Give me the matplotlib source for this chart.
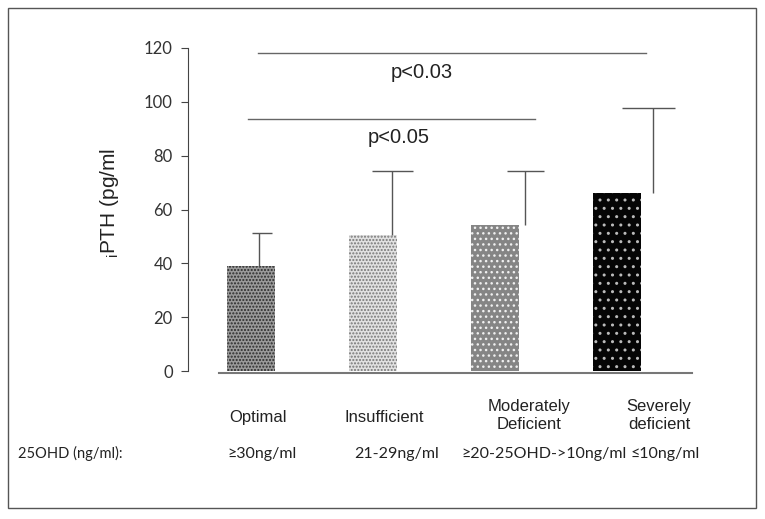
import matplotlib
matplotlib.use("Agg")
from matplotlib import pyplot as plt
from matplotlib.patches import Rectangle

# data
groups = ['Optimal', 'Insufficient', 'Moderately\nDeficient', 'Severely\ndeficient']
ranges = ['\u226530ng/ml', '21-29ng/ml', '\u226520-25OHD->10ng/ml', '\u226410ng/ml']
pth_mean = [39, 50.5, 54.3, 66]
pth_sd = [12.3, 23.8, 20, 31.8]
sig_pairs = [(0, 3), (0, 2)]
sig_labels = ['p<0.03', 'p<0.05']
sig_heights = [118.2, 93.7]

W, H = 765, 519
fig = plt.figure(figsize=(W / 100, H / 100), dpi=100)

def fx(px):
    return px / W

def fy(py):
    return 1 - py / H

# outer frame
fig.patches.append(Rectangle((fx(8), fy(508)), fx(748), 500 / H, transform=fig.transFigure,
                             fill=False, edgecolor='#555555', lw=1.0))

ax = fig.add_axes([fx(188), fy(371), fx(504), (371 - 48) / H])
ax.set_xlim(-0.516, -0.516 + 504 / 122)
ax.set_ylim(0, 120)

x = list(range(len(groups)))
styles = [('#9a9a9a', '#2a2a2a', '.....'),
          ('#e2e2e2', '#777777', '.....'),
          ('#858585', '#f0f0f0', '...'),
          ('#050505', '#bbbbbb', '..')]
for i in x:
    fc, hc, hatch = styles[i]
    ax.bar(i, pth_mean[i], width=0.39, color=fc, edgecolor=hc, hatch=hatch, lw=0)

# upper error bars only (shifted right, as in the original)
line_dx = [0.066, 0.156, 0.246, 0.295]
cap_dx = [0.09, 0.16, 0.25, 0.26]
cap_w = [0.17, 0.34, 0.30, 0.43]
for i in x:
    top = pth_mean[i] + pth_sd[i]
    ax.vlines(i + line_dx[i], pth_mean[i], top, color='#555555', lw=1.0)
    ax.hlines(top, i + cap_dx[i] - cap_w[i] / 2, i + cap_dx[i] + cap_w[i] / 2,
              color='#555555', lw=1.0)

# significance lines
sig_x = {(0, 3): (0.057, 3.24), (0, 2): (-0.025, 2.33)}
text_pos = [(1.40, 110.8), (1.21, 86.6)]
for pair, lab, h, (tx, ty) in zip(sig_pairs, sig_labels, sig_heights, text_pos):
    x0, x1 = sig_x[pair]
    ax.plot([x0, x1], [h, h], color='#666666', lw=1.0)
    ax.text(tx, ty, lab, ha='center', va='center', fontsize=14.5, family='Liberation Sans',
            color='#222222')

# baseline
ax.plot([-0.26, 3.615], [-0.7, -0.7], color='#777777', lw=1.5, clip_on=False)

for s in ['top', 'right', 'bottom']:
    ax.spines[s].set_visible(False)
ax.spines['left'].set_color('#444444')
ax.set_xticks([])
ax.set_yticks(range(0, 121, 20))
ax.tick_params(axis='y', direction='out', length=5, color='#444444', labelsize=12,
               labelcolor='#333333', pad=6)
for t in ax.get_yticklabels():
    t.set_family('Lato')

fig.text(fx(110), fy(203), r'$_{\mathregular{i}}$PTH (pg/ml', rotation=90, ha='center',
         va='center', fontsize=15, family='Liberation Sans', color='#222222')

# category labels under the bars
lab_px = [258, 384, 529, 659]
for px, g in zip(lab_px, groups):
    lines = g.split('\n')
    base = [422] if len(lines) == 1 else [411, 429]
    for ln, b in zip(lines, base):
        fig.text(fx(px), fy(b), ln, ha='center', va='baseline', fontsize=12,
                 family='Liberation Sans', color='#222222')

range_px = [262, 397, 544, 665]
fig.text(fx(18), fy(458), '25OHD (ng/ml):', ha='left', va='baseline', fontsize=10.5,
         family='Lato', color='#222222')
for px, r in zip(range_px, ranges):
    fig.text(fx(px), fy(458), r, ha='center', va='baseline', fontsize=11.5,
             family=['Lato', 'DejaVu Sans'], color='#222222')

plt.savefig('out.png', dpi=100)
